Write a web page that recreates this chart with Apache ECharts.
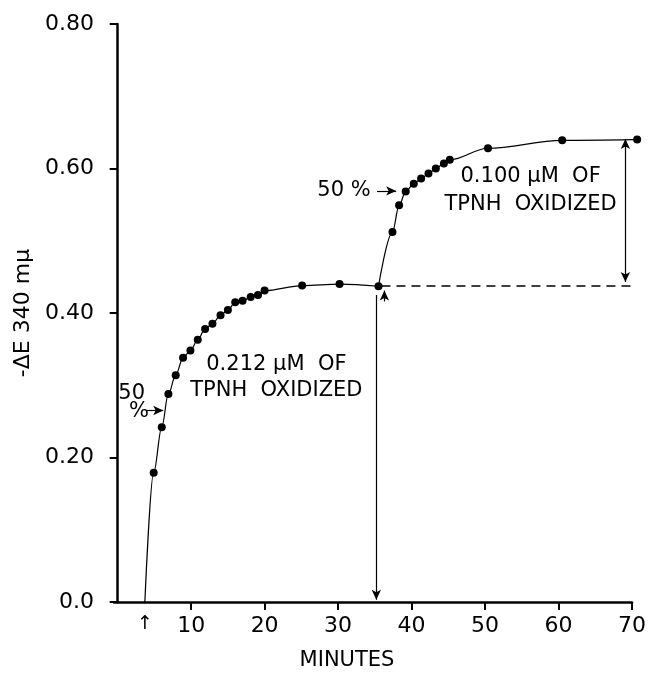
<!DOCTYPE html>
<html>
<head>
<meta charset="utf-8">
<script src="https://cdn.jsdelivr.net/npm/echarts@6/dist/echarts.min.js"></script>
<style>
  html, body { margin: 0; background: #fff; }
  #chart { width: 650px; height: 676px; }
</style>
</head>
<body>
<div id="chart"></div>
<script>
// first addition: readings of -ΔE 340 mμ against minutes
const run1Minutes = [4.9, 6.0, 6.9, 7.9, 8.9, 9.9, 10.9, 11.9, 12.9, 14.0, 15.0, 16.0, 17.0, 18.1, 19.1, 20.0, 25.1, 30.2, 35.5]
const run1Values = [0.179, 0.242, 0.288, 0.314, 0.338, 0.348, 0.363, 0.378, 0.385, 0.397, 0.404, 0.415, 0.417, 0.422, 0.425, 0.431, 0.438, 0.440, 0.437]
// second addition, starting from the last point of run 1
const run2Minutes = [37.4, 38.3, 39.2, 40.3, 41.3, 42.3, 43.3, 44.4, 45.2, 50.4, 60.5, 70.7]
const run2Values = [0.512, 0.549, 0.568, 0.579, 0.586, 0.593, 0.600, 0.607, 0.612, 0.628, 0.639, 0.640]
// the fitted curve leaves the axis here (time of addition)
const curveStart = [3.7, 0]
const xTickValues = [10, 20, 30, 40, 50, 60, 70]

const FONT = 'DejaVu Sans'
const BLACK = '#000'

const run1 = run1Minutes.map((m, i) => [m, run1Values[i]])
const run2 = run2Minutes.map((m, i) => [m, run2Values[i]])
const breakPoint = run1[run1.length - 1]

function arrow(from, to, both) {
  return [
    { coord: from, symbol: both ? 'arrow' : 'none' },
    { coord: to, symbol: 'arrow' }
  ]
}

function textMark(coord, text, lineHeight) {
  return {
    coord: coord,
    symbol: 'circle',
    symbolSize: 0,
    label: {
      show: true,
      position: 'inside',
      formatter: text,
      color: BLACK,
      fontFamily: FONT,
      fontSize: 21,
      lineHeight: lineHeight || 26,
      align: 'center',
      verticalAlign: 'middle'
    }
  }
}

const chart = echarts.init(document.getElementById('chart'))
chart.setOption({
  animation: false,
  grid: { left: 114, right: 18, top: 24, bottom: 62, containLabel: false },
  xAxis: {
    type: 'value',
    min: -0.5,
    max: 70,
    name: 'MINUTES',
    nameLocation: 'middle',
    nameGap: 48,
    nameTextStyle: { color: BLACK, fontFamily: FONT, fontSize: 21, padding: [0, 52, 0, 0] },
    axisLine: { lineStyle: { color: BLACK, width: 2.5 } },
    axisTick: { show: true, length: 8, lineStyle: { color: BLACK, width: 2 }, customValues: xTickValues },
    axisLabel: {
      color: BLACK,
      fontFamily: FONT,
      fontSize: 22,
      margin: 13,
      // the small arrow under the axis marks when TPNH was added
      customValues: [curveStart[0]].concat(xTickValues),
      formatter: v => (v === curveStart[0] ? '{arr|↑}' : String(v)),
      rich: { arr: { fontSize: 19, fontFamily: FONT, color: BLACK, padding: [0, 0, 2, 0] } }
    },
    splitLine: { show: false }
  },
  yAxis: {
    type: 'value',
    min: 0,
    max: 0.8,
    interval: 0.2,
    name: '-ΔE 340 mμ',
    nameLocation: 'middle',
    nameGap: 80,
    nameTextStyle: { color: BLACK, fontFamily: FONT, fontSize: 22 },
    axisLine: { lineStyle: { color: BLACK, width: 2.5 } },
    axisTick: { length: 8, lineStyle: { color: BLACK, width: 2 } },
    axisLabel: {
      color: BLACK,
      fontFamily: FONT,
      fontSize: 22,
      margin: 20,
      formatter: v => (v === 0 ? '0.0' : v.toFixed(2))
    },
    splitLine: { show: false }
  },
  series: [
    {
      // fitted curve, first addition
      type: 'line',
      data: [curveStart].concat(run1),
      smooth: 0.35,
      smoothMonotone: 'x',
      showSymbol: false,
      clip: false,
      silent: true,
      lineStyle: { color: BLACK, width: 1.2 },
      markLine: {
        silent: true,
        animation: false,
        symbolSize: [7, 10],
        label: { show: false },
        lineStyle: { color: BLACK, width: 1.2, type: 'solid' },
        data: [
          // down-arrow at the second addition
          arrow([35.2, 0.425], [35.2, 0.003]),
          // 50 % marker, first curve
          arrow([3.9, 0.265], [6.2, 0.265]),
          // addition mark at the break point
          arrow([36.3, 0.416], [36.3, 0.431])
        ]
      },
      markPoint: {
        silent: true,
        data: [
          textMark([21.6, 0.311], '0.212 μM  OF\nTPNH  OXIDIZED', 26),
          textMark([1.9, 0.289], '50'),
          textMark([2.9, 0.263], '%')
        ]
      }
    },
    {
      // fitted curve, second addition
      type: 'line',
      data: [breakPoint].concat(run2),
      smooth: 0.35,
      smoothMonotone: 'x',
      showSymbol: false,
      clip: false,
      silent: true,
      lineStyle: { color: BLACK, width: 1.2 },
      markLine: {
        silent: true,
        animation: false,
        symbolSize: [7, 10],
        label: { show: false },
        lineStyle: { color: BLACK, width: 1.2, type: 'solid' },
        data: [
          // baseline carried forward
          [
            { coord: [35.9, 0.438], symbol: 'none', lineStyle: { type: [9, 6], width: 1.5, color: BLACK } },
            { coord: [70, 0.438], symbol: 'none' }
          ],
          // span of the second oxidation
          arrow([69.1, 0.443], [69.1, 0.641], true),
          // 50 % marker, second curve
          arrow([35.3, 0.569], [37.9, 0.569])
        ]
      },
      markPoint: {
        silent: true,
        data: [
          textMark([56.2, 0.569], '0.100 μM  OF\nTPNH  OXIDIZED', 28),
          textMark([30.8, 0.569], '50 %')
        ]
      }
    },
    {
      type: 'scatter',
      data: run1.concat(run2),
      symbol: 'circle',
      symbolSize: 8,
      clip: false,
      itemStyle: { color: BLACK, opacity: 1 }
    }
  ]
})
</script>
</body>
</html>
